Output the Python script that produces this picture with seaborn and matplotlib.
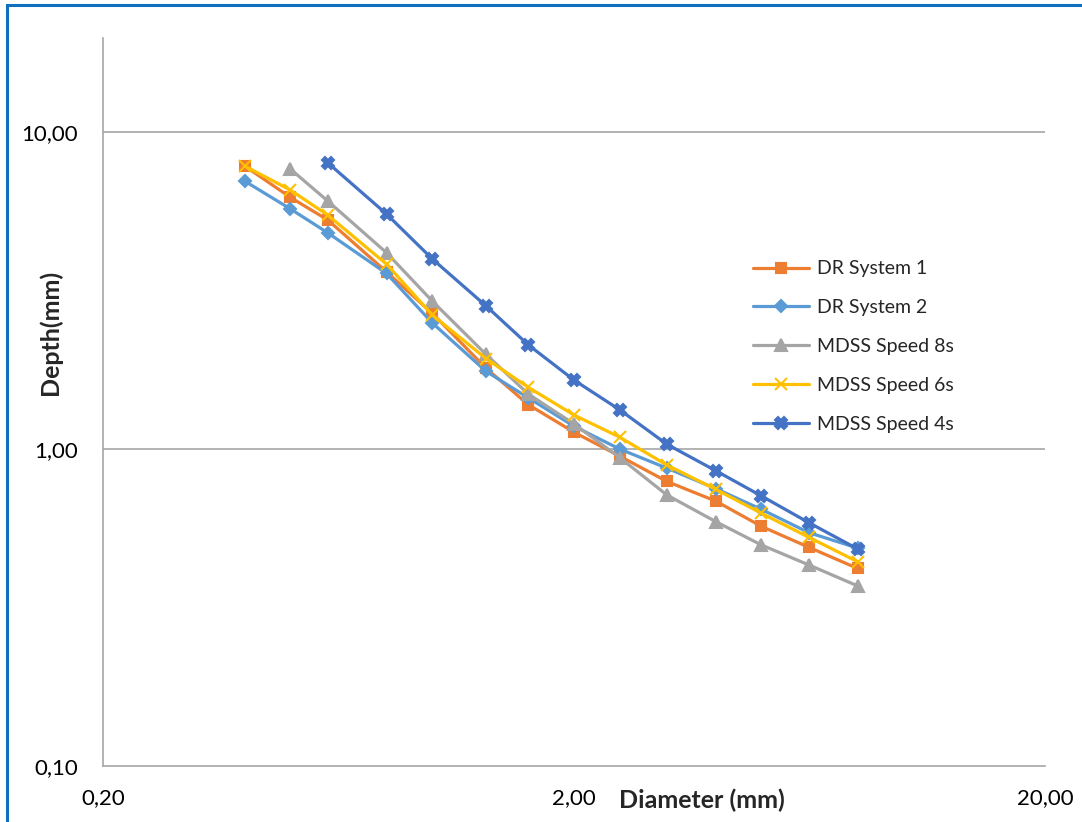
import matplotlib
matplotlib.use("Agg")
import matplotlib.pyplot as plt
import matplotlib.ticker as mticker
from matplotlib.patches import Rectangle
import numpy as np
import pandas as pd
import seaborn as sns

# sieve diameters (mm)
diam_full = [0.4, 0.5, 0.6, 0.8, 1.0, 1.3, 1.6, 2.0, 2.5, 3.15, 4.0, 5.0, 6.3, 8.0]
diam_8s = diam_full[1:]
diam_4s = diam_full[2:]

# depth (mm)
dr_system_1 = [7.81, 6.22, 5.28, 3.62, 2.68, 1.80, 1.38, 1.13, 0.95, 0.79, 0.685, 0.57, 0.49, 0.42]
dr_system_2 = [7.00, 5.72, 4.81, 3.58, 2.50, 1.76, 1.45, 1.18, 1.00, 0.87, 0.75, 0.645, 0.545, 0.487]
mdss_8s = [7.64, 6.06, 4.16, 2.93, 1.99, 1.49, 1.20, 0.94, 0.716, 0.59, 0.498, 0.431, 0.37]
mdss_6s = [7.81, 6.56, 5.47, 3.83, 2.65, 1.93, 1.565, 1.28, 1.09, 0.89, 0.746, 0.627, 0.527, 0.441]
mdss_4s = [8.00, 5.51, 3.98, 2.83, 2.13, 1.65, 1.33, 1.035, 0.854, 0.711, 0.586, 0.484]

series_names = ["DR System 1", "DR System 2", "MDSS Speed 8s", "MDSS Speed 6s", "MDSS Speed 4s"]
series_x = [diam_full, diam_full, diam_8s, diam_full, diam_4s]
series_y = [dr_system_1, dr_system_2, mdss_8s, mdss_6s, mdss_4s]

colors = ["#ED7D31", "#5B9BD5", "#A5A5A5", "#FFC000", "#4472C4"]
markers = ["s", "D", "^", "x", "X"]
msizes = [7, 6, 8, 8, 8]

sns.set_style("white")
plt.rcParams['font.family'] = ['Lato', 'DejaVu Sans']

fig = plt.figure(figsize=(10.82, 8.22), dpi=100)
ax = fig.add_axes([103 / 1082, 1 - 766 / 822, (1045 - 103) / 1082, (766 - 38) / 822])

for name, xs, ys, c, m, ms in zip(series_names, series_x, series_y, colors, markers, msizes):
    d = pd.DataFrame({"Diameter": xs, "Depth": ys})
    sns.lineplot(data=d, x="Diameter", y="Depth", color=c, marker=m, markersize=ms,
                 markeredgecolor=c, markeredgewidth=1.5, linewidth=2.3, label=name, ax=ax)

ax.set_xscale("log")
ax.set_yscale("log")
ax.set_xlim(0.2, 20)
ax.set_ylim(0.1, 19.8)
ax.set_xticks([0.2, 2, 20])
ax.set_yticks([0.1, 1, 10])
fmt = mticker.FuncFormatter(lambda v, p: ("%.2f" % v).replace(".", ","))
ax.xaxis.set_major_formatter(fmt)
ax.yaxis.set_major_formatter(fmt)
ax.xaxis.set_minor_locator(mticker.NullLocator())
ax.yaxis.set_minor_locator(mticker.NullLocator())
ax.tick_params(axis="both", length=0, labelsize=16, colors="#000000")
ax.tick_params(axis="x", pad=16)
ax.tick_params(axis="y", pad=18)

ax.grid(False)
for yv in [1, 10]:
    ax.axhline(yv, color="#A6A6A6", linewidth=1.2, zorder=0)
for s in ["top", "right"]:
    ax.spines[s].set_visible(False)
for s in ["left", "bottom"]:
    ax.spines[s].set_color("#A6A6A6")
    ax.spines[s].set_linewidth(1.2)

ax.set_xlabel("")
ax.set_ylabel("")
fig.text(702 / 1082, 1 - 800 / 822, "Diameter (mm)", fontsize=18, fontweight="bold",
         ha="center", va="center")
fig.text(50 / 1082, 1 - 332 / 822, "Depth(mm)", fontsize=18, fontweight="bold",
         ha="center", va="center", rotation=90)

handles, labels = ax.get_legend_handles_labels()
ax.legend(handles, labels, loc="upper left", bbox_to_anchor=(735 / 1082, 1 - 243 / 822),
          bbox_transform=fig.transFigure, frameon=False, fontsize=14,
          handlelength=2.9, handletextpad=0.4, labelspacing=1.12)

# blue chart frame (left and top edges visible)
fig.patches.append(Rectangle((7 / 1082, -0.1), 1.2, 1.1 - 5 / 822, transform=fig.transFigure,
                             fill=False, edgecolor="#1070C0", linewidth=2.2))

fig.savefig("out.png", dpi=100)
